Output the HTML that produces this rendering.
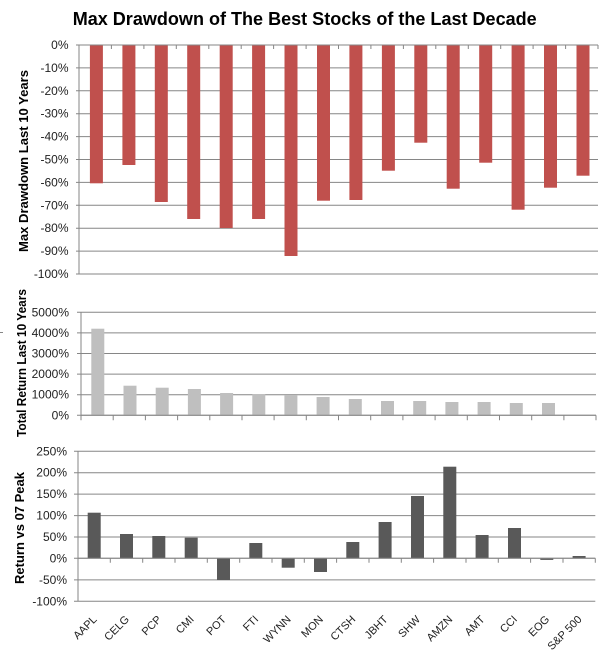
<!DOCTYPE html>
<html><head><meta charset="utf-8"><style>
html,body{margin:0;padding:0;background:#fff;}
svg{display:block;}
text{font-family:"Liberation Sans",sans-serif;}
</style></head><body>
<svg width="611" height="671" viewBox="0 0 611 671" xmlns="http://www.w3.org/2000/svg">
<rect width="611" height="671" fill="#fff"/>
<text x="72.7" y="25" font-size="18.5" font-weight="bold" fill="#000" textLength="464" lengthAdjust="spacingAndGlyphs">Max Drawdown of The Best Stocks of the Last Decade</text>

<!-- TOP CHART -->
<g stroke="#868686" stroke-width="1" fill="none">
<path d="M76 45H598M76 67.9H598M76 90.8H598M76 113.7H598M76 136.6H598M76 159.5H598M76 182.4H598M76 205.3H598M76 228.2H598M76 251.1H598M76 274H598"/>
<path d="M79 45V274"/>
</g>
<g fill="#C0504D">
<rect x="89.9" y="45" width="13" height="138.3"/>
<rect x="122.4" y="45" width="13" height="120"/>
<rect x="154.8" y="45" width="13" height="157"/>
<rect x="187.2" y="45" width="13" height="174"/>
<rect x="219.7" y="45" width="13" height="183"/>
<rect x="252.1" y="45" width="13" height="174"/>
<rect x="284.5" y="45" width="13" height="211"/>
<rect x="317.0" y="45" width="13" height="155.7"/>
<rect x="349.4" y="45" width="13" height="155"/>
<rect x="381.9" y="45" width="13" height="125.7"/>
<rect x="414.3" y="45" width="13" height="97.7"/>
<rect x="446.7" y="45" width="13" height="143.7"/>
<rect x="479.2" y="45" width="13" height="117.7"/>
<rect x="511.6" y="45" width="13" height="164.7"/>
<rect x="544.0" y="45" width="13" height="142.7"/>
<rect x="576.5" y="45" width="13" height="130.7"/>
</g>
<g stroke="#868686" stroke-width="1">
<path d="M79 45H598"/>
<path d="M79 45v4M111.4 45v4M143.9 45v4M176.3 45v4M208.8 45v4M241.2 45v4M273.6 45v4M306.1 45v4M338.5 45v4M370.9 45v4M403.4 45v4M435.8 45v4M468.3 45v4M500.7 45v4M533.1 45v4M565.6 45v4M598 45v4"/>
</g>
<g font-size="12" fill="#222" text-anchor="end">
<text x="68.5" y="49">0%</text>
<text x="68.5" y="71.9">-10%</text>
<text x="68.5" y="94.8">-20%</text>
<text x="68.5" y="117.7">-30%</text>
<text x="68.5" y="140.6">-40%</text>
<text x="68.5" y="163.5">-50%</text>
<text x="68.5" y="186.4">-60%</text>
<text x="68.5" y="209.3">-70%</text>
<text x="68.5" y="232.2">-80%</text>
<text x="68.5" y="255.1">-90%</text>
<text x="68.5" y="278">-100%</text>
</g>
<text transform="translate(28,161) rotate(-90)" text-anchor="middle" font-size="12.5" font-weight="bold" fill="#000" textLength="182" lengthAdjust="spacingAndGlyphs">Max Drawdown  Last 10 Years</text>

<!-- MIDDLE CHART -->
<g stroke="#868686" stroke-width="1" fill="none">
<path d="M77 312.3H596M77 332.9H596M77 353.5H596M77 374.1H596M77 394.7H596M77 415.3H596"/>
<path d="M81 312.3V415.3"/>
</g>
<g fill="#BFBFBF">
<rect x="91.3" y="328.7" width="13" height="86.6"/>
<rect x="123.5" y="385.7" width="13" height="29.6"/>
<rect x="155.7" y="387.7" width="13" height="27.6"/>
<rect x="187.9" y="389" width="13" height="26.3"/>
<rect x="220.1" y="393" width="13" height="22.3"/>
<rect x="252.3" y="394" width="13" height="21.3"/>
<rect x="284.4" y="395" width="13" height="20.3"/>
<rect x="316.6" y="397" width="13" height="18.3"/>
<rect x="348.8" y="399" width="13" height="16.3"/>
<rect x="381.0" y="401" width="13" height="14.3"/>
<rect x="413.2" y="401" width="13" height="14.3"/>
<rect x="445.4" y="402" width="13" height="13.3"/>
<rect x="477.6" y="402" width="13" height="13.3"/>
<rect x="509.8" y="403" width="13" height="12.3"/>
<rect x="542.0" y="403" width="13" height="12.3"/>
</g>
<g stroke="#868686" stroke-width="1">
<path d="M81 415.3H596"/>
<path d="M81 415.3v5M113.2 415.3v5M145.4 415.3v5M177.6 415.3v5M209.8 415.3v5M242 415.3v5M274.1 415.3v5M306.3 415.3v5M338.5 415.3v5M370.7 415.3v5M402.9 415.3v5M435.1 415.3v5M467.3 415.3v5M499.5 415.3v5M531.7 415.3v5M563.9 415.3v5M596 415.3v5"/>
<path d="M0 332.5h3"/>
</g>
<g font-size="12" fill="#222" text-anchor="end">
<text x="69" y="316.3">5000%</text>
<text x="69" y="336.9">4000%</text>
<text x="69" y="357.5">3000%</text>
<text x="69" y="378.1">2000%</text>
<text x="69" y="398.7">1000%</text>
<text x="69" y="419.3">0%</text>
</g>
<text transform="translate(26,363) rotate(-90)" text-anchor="middle" font-size="12.5" font-weight="bold" fill="#000" textLength="148" lengthAdjust="spacingAndGlyphs">Total Return Last 10 Years</text>

<!-- BOTTOM CHART -->
<g stroke="#868686" stroke-width="1" fill="none">
<path d="M74 451.3H595.3M74 472.7H595.3M74 494.1H595.3M74 515.6H595.3M74 537H595.3M74 558.3H595.3M74 579.9H595.3M74 601.3H595.3"/>
<path d="M78 451.3V601.3"/>
</g>
<g fill="#595959">
<rect x="87.7" y="512.7" width="13" height="45.6"/>
<rect x="120.0" y="534" width="13" height="24.3"/>
<rect x="152.3" y="536" width="13" height="22.3"/>
<rect x="184.7" y="537.7" width="13" height="20.6"/>
<rect x="217.0" y="558.3" width="13" height="21.7"/>
<rect x="249.3" y="543" width="13" height="15.3"/>
<rect x="281.7" y="558.3" width="13" height="9.4"/>
<rect x="314.0" y="558.3" width="13" height="13.7"/>
<rect x="346.3" y="542" width="13" height="16.3"/>
<rect x="378.6" y="522" width="13" height="36.3"/>
<rect x="411.0" y="496" width="13" height="62.3"/>
<rect x="443.3" y="466.7" width="13" height="91.6"/>
<rect x="475.6" y="535" width="13" height="23.3"/>
<rect x="508.0" y="528" width="13" height="30.3"/>
<rect x="540.3" y="558.3" width="13" height="1.6"/>
<rect x="572.6" y="556" width="13" height="2.3"/>
</g>
<g stroke="#868686" stroke-width="1">
<path d="M78 558.3H595.3"/>
<path d="M78 558.3v4.5M110.3 558.3v4.5M142.7 558.3v4.5M175 558.3v4.5M207.3 558.3v4.5M239.7 558.3v4.5M272 558.3v4.5M304.3 558.3v4.5M336.6 558.3v4.5M369 558.3v4.5M401.3 558.3v4.5M433.6 558.3v4.5M466 558.3v4.5M498.3 558.3v4.5M530.6 558.3v4.5M563 558.3v4.5M595.3 558.3v4.5"/>
</g>
<g font-size="12" fill="#222" text-anchor="end">
<text x="67" y="455.3">250%</text>
<text x="67" y="476.7">200%</text>
<text x="67" y="498.1">150%</text>
<text x="67" y="519.6">100%</text>
<text x="67" y="541">50%</text>
<text x="67" y="562.3">0%</text>
<text x="67" y="583.9">-50%</text>
<text x="67" y="605.3">-100%</text>
</g>
<text transform="translate(24,528) rotate(-90)" text-anchor="middle" font-size="12.5" font-weight="bold" fill="#000" textLength="112" lengthAdjust="spacingAndGlyphs">Return  vs 07 Peak</text>

<g font-size="11" fill="#222" text-anchor="end">
<text transform="translate(97.5,620) rotate(-45)">AAPL</text>
<text transform="translate(129.8,620) rotate(-45)">CELG</text>
<text transform="translate(162.1,620) rotate(-45)">PCP</text>
<text transform="translate(194.5,620) rotate(-45)">CMI</text>
<text transform="translate(226.8,620) rotate(-45)">POT</text>
<text transform="translate(259.1,620) rotate(-45)">FTI</text>
<text transform="translate(291.5,620) rotate(-45)">WYNN</text>
<text transform="translate(323.8,620) rotate(-45)">MON</text>
<text transform="translate(356.1,620) rotate(-45)">CTSH</text>
<text transform="translate(388.4,620) rotate(-45)">JBHT</text>
<text transform="translate(420.8,620) rotate(-45)">SHW</text>
<text transform="translate(453.1,620) rotate(-45)">AMZN</text>
<text transform="translate(485.4,620) rotate(-45)">AMT</text>
<text transform="translate(517.8,620) rotate(-45)">CCI</text>
<text transform="translate(550.1,620) rotate(-45)">EOG</text>
<text transform="translate(582.4,620) rotate(-45)">S&amp;P 500</text>
</g>
</svg>
</body></html>
